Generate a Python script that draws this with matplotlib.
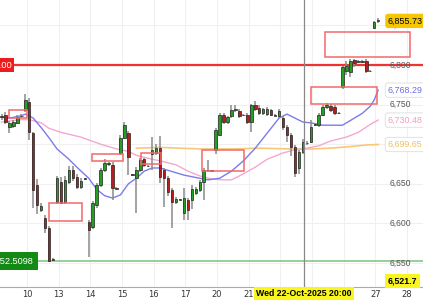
import numpy as np
import matplotlib
matplotlib.use("Agg")
import matplotlib.pyplot as plt
import matplotlib.transforms as mtransforms
from matplotlib.patches import Rectangle

# 3h candles (index based x axis, weekends collapsed)
opens = [6734, 6737, 6722, 6723, 6727, 6735, 6743, 6753, 6714, 6648,
         6617, 6607, 6594, 6554, 6627, 6652, 6627, 6652, 6667, 6659,
         6646, 6656, 6602, 6595, 6623, 6648, 6667, 6675, 6674, 6645,
         6689, 6708, 6714, 6662, 6657, 6667, 6681, 6673, 6688, 6689,
         6695, 6667, 6657, 6642, 6627, 6630, 6613, 6630, 6629, 6638,
         6642, 6652, 6668, 6666, 6693, 6712, 6737, 6728, 6735, 6743,
         6742, 6737, 6737, 6728, 6749, 6746, 6739, 6738, 6743, 6737,
         6735, 6733, 6722, 6712, 6697, 6670, 6690, 6702, 6703, 6724,
         6724, 6737, 6747, 6748, 6747, 6740, 6772, 6792, 6791, 6806,
         6804, 6805, 6805, 6792, 6847, 6855.5]
highs = [6738, 6741, 6729, 6730, 6737, 6738, 6763, 6758, 6716, 6656,
         6626, 6610, 6597, 6556, 6660, 6658, 6660, 6672, 6673, 6662,
         6657, 6657, 6604, 6628, 6651, 6670, 6681, 6677, 6677, 6646,
         6712, 6728, 6717, 6663, 6671, 6683, 6683, 6674, 6709, 6700,
         6710, 6670, 6660, 6645, 6633, 6631, 6645, 6632, 6648, 6646,
         6655, 6670, 6680, 6668, 6720, 6740, 6740, 6736, 6750, 6749,
         6744, 6738, 6739, 6751, 6755, 6750, 6746, 6747, 6745, 6738,
         6744, 6736, 6724, 6714, 6699, 6693, 6706, 6704, 6730, 6727,
         6739, 6750, 6752, 6751, 6749, 6741, 6799, 6805, 6807, 6807,
         6806, 6806, 6807, 6794, 6856, 6859]
lows = [6731, 6725, 6714, 6720, 6725, 6733, 6741, 6705, 6620, 6612,
        6614, 6588, 6551, 6553, 6625, 6624, 6624, 6650, 6654, 6644,
        6643, 6655, 6558, 6593, 6620, 6646, 6665, 6673, 6630, 6643,
        6687, 6706, 6661, 6660, 6613, 6665, 6671, 6671, 6667, 6686,
        6651, 6621, 6635, 6594, 6625, 6629, 6604, 6604, 6618, 6636,
        6640, 6630, 6665, 6665, 6688, 6710, 6726, 6726, 6733, 6741,
        6733, 6735, 6725, 6716, 6742, 6737, 6737, 6736, 6735, 6735,
        6733, 6718, 6703, 6685, 6658, 6662, 6688, 6699, 6701, 6723,
        6722, 6735, 6745, 6741, 6737, 6738, 6770, 6787, 6785, 6798,
        6803, 6803, 6790, 6791, 6845, 6853]
closes = [6735, 6728, 6727, 6728, 6734, 6736, 6756, 6715, 6642, 6623,
          6622, 6594, 6553, 6555, 6657, 6626, 6655, 6668, 6657, 6646,
          6654, 6656.5, 6592, 6626, 6649, 6668, 6676, 6676, 6645, 6644,
          6708, 6724, 6684, 6661, 6667, 6680, 6674, 6672, 6693, 6695,
          6659, 6657, 6640, 6627, 6631, 6630.5, 6632, 6617, 6644, 6644,
          6652, 6667, 6667, 6667, 6718, 6737, 6728, 6734, 6743, 6744,
          6735, 6736.5, 6728, 6749, 6745, 6739, 6744, 6744, 6737, 6736,
          6742, 6722, 6712, 6696, 6664, 6690, 6703, 6701, 6722, 6725,
          6737, 6747, 6750, 6743, 6740, 6739, 6797, 6799, 6805, 6803,
          6805, 6804, 6793, 6793, 6854, 6855.73]

# moving averages (candle index, value)
blue_idx = [0, 2, 5, 6, 8, 10, 12, 14, 17, 19, 22, 24, 26, 28, 30, 32, 34, 36, 38, 40, 42,
            44, 46, 48, 52, 55, 58, 61, 64, 67, 70, 72, 74, 76, 78, 81, 86, 88, 91, 93, 94, 95]
blue_val = [6734, 6733, 6736, 6738, 6733, 6721, 6708, 6694, 6681, 6671, 6657, 6643, 6635,
            6632, 6636, 6650, 6657, 6666, 6670, 6670, 6667, 6664, 6661, 6659, 6655, 6657,
            6666, 6679, 6695, 6714, 6733, 6738, 6733, 6728, 6727, 6724, 6724, 6730, 6739,
            6748, 6756, 6768.29]
pink_idx = [0, 5, 7, 10, 12, 15, 20, 25, 29, 32, 34, 38, 40, 44, 47, 50, 53, 56, 58, 60,
            64, 67, 71, 74, 77, 80, 83, 87, 90, 93, 95]
pink_val = [6728, 6731, 6731, 6727, 6720, 6715, 6709, 6700, 6694, 6691, 6686, 6681, 6679,
            6674, 6666, 6660, 6656, 6655, 6655, 6660, 6671, 6681, 6689, 6693, 6695, 6698,
            6704, 6709, 6715, 6725, 6730.48]
orange_idx = [34, 40, 45, 50, 58, 65, 73, 78, 83, 88, 92, 95]
orange_val = [6695, 6696, 6695, 6694, 6694, 6695, 6694, 6694, 6695, 6697, 6699, 6699.65]

# zones (candle index start/end, low/high)
zone_start = [1.9, 12.0, 22.8, 35.2, 50.6, 78.1, 81.6]
zone_end = [6.4, 20.3, 30.6, 40.2, 61.2, 94.7, 103.0]
zone_low = [6733, 6603, 6679, 6675, 6666, 6751, 6810]
zone_high = [6743, 6626, 6688, 6689, 6693, 6772, 6842]

# 22, 23 and 24 sit under the crosshair date box
day_labels = ['10', '13', '14', '15', '16', '17', '20', '21', '', '', '', '27', '28']
price_ticks = [6550, 6600, 6650, 6700, 6750, 6800, 6850]
price_shown = [6550, 6600, 6650, 6750, 6800, 6850]

resistance = 6800.00
support = 6552.5098
last_price = 6855.73
low_label = '6,521.7'
cross_idx = 76.3
cross_text = 'Wed 22-Oct-2025 20:00'

fig = plt.figure(figsize=(4.23, 3.0), dpi=100)
ax = fig.add_axes([0, 13 / 300, 1, 287 / 300])
ax.set_xlim(-0.38, 106.3)
ax.set_ylim(6519.7, 6882.1)

day_pos = 6.43 + 7.99 * np.arange(len(day_labels))
ax.set_xticks(day_pos)
ax.set_xticklabels(day_labels)
ax.set_yticks(price_ticks)
ax.grid(color='#f0f0f0', lw=0.8, zorder=0)
ax.set_axisbelow(True)
ax.tick_params(axis='y', left=False, labelleft=False)
ax.tick_params(axis='x', length=0, pad=2.5, labelsize=6, labelcolor='#333333')
for s in ['top', 'left', 'right']:
    ax.spines[s].set_visible(False)
ax.spines['bottom'].set_color('#aaaaaa')

ax.axhline(resistance, color='#f03232', lw=1.6, xmin=15 / 423, zorder=1.5)
ax.axhline(support, color='#7cc47c', lw=1.1, zorder=1.5)

ax.plot(orange_idx, orange_val, color='#f8c878', lw=1.2, zorder=1.8)
ax.plot(pink_idx, pink_val, color='#f5a8cf', lw=1.0, zorder=1.8)
ax.plot(blue_idx, blue_val, color='#7b7bee', lw=1.0, zorder=1.8)

# candles
idx = np.arange(len(opens))
o = np.array(opens)
c = np.array(closes)
up = c >= o
ax.vlines(idx, lows, highs, color='#8a8a8a', lw=1.1, zorder=2)
body = np.maximum(np.abs(c - o), 0.9)
ax.bar(idx, body, bottom=np.minimum(o, c), width=0.62,
       color=np.where(up, '#22a022', '#b81c1c'), edgecolor='#222222', lw=0.5, zorder=3)

for x0, x1, lo, hi in zip(zone_start, zone_end, zone_low, zone_high):
    ax.add_patch(Rectangle((x0, lo), x1 - x0, hi - lo, fill=False,
                           ec='#f06a6a', lw=1.1, zorder=4))

ax.axvline(cross_idx, color='#888888', lw=0.9, zorder=4)

# price labels inside the plot on the right
blend = mtransforms.blended_transform_factory(ax.transAxes, ax.transData)
for p in price_shown:
    ax.text(0.922, p, f'{p:,}', transform=blend, fontsize=6.2, color='#555555',
            va='center', ha='left', family='Liberation Sans', zorder=5)

ax.text(0.917, last_price, f'{last_price:,.2f}', transform=blend, fontsize=6.4, color='black',
        va='center', ha='left', family='Liberation Sans', zorder=6,
        bbox=dict(boxstyle='round,pad=0.3', fc='#f6c700', ec='none'))
ma_labels = [(blue_val[-1], '#6c6ce8'), (pink_val[-1], '#f29cc6'), (orange_val[-1], '#f0c060')]
for v, col in ma_labels:
    ax.text(0.917, v, f'{v:,.2f}', transform=blend, fontsize=6.4, color=col,
            va='center', ha='left', family='Liberation Sans', zorder=6,
            bbox=dict(boxstyle='round,pad=0.3', fc='white', ec='#dddddd', lw=0.6))
ax.text(0.917, 0.021, low_label, transform=ax.transAxes, fontsize=6.4, color='black',
        va='center', ha='left', family='Liberation Sans', weight='bold', zorder=6,
        bbox=dict(boxstyle='square,pad=0.3', fc='#f8f520', ec='none'))

# left side labels, cut by the figure edge
ax.text(12 / 423, resistance, f'{resistance:,.2f}', transform=blend, fontsize=6.8, color='white',
        va='center', ha='right', family='Liberation Sans', zorder=6,
        bbox=dict(boxstyle='square,pad=0.25', fc='#ee1c1c', ec='none'))
ax.text(33.5 / 423, support, f'{support:,.4f}', transform=blend, fontsize=6.6, color='white',
        va='center', ha='right', family='Liberation Sans', zorder=6,
        bbox=dict(boxstyle='square,pad=0.45', fc='#138a13', ec='none'))

bx = mtransforms.blended_transform_factory(ax.transData, ax.transAxes)
ax.text(cross_idx, -0.024, cross_text, transform=bx, fontsize=6.3, weight='bold',
        ha='center', va='center', family='Liberation Sans', clip_on=False, zorder=10,
        bbox=dict(boxstyle='square,pad=0.25', fc='#f8f520', ec='none'))

fig.savefig('out.png', dpi=100)
